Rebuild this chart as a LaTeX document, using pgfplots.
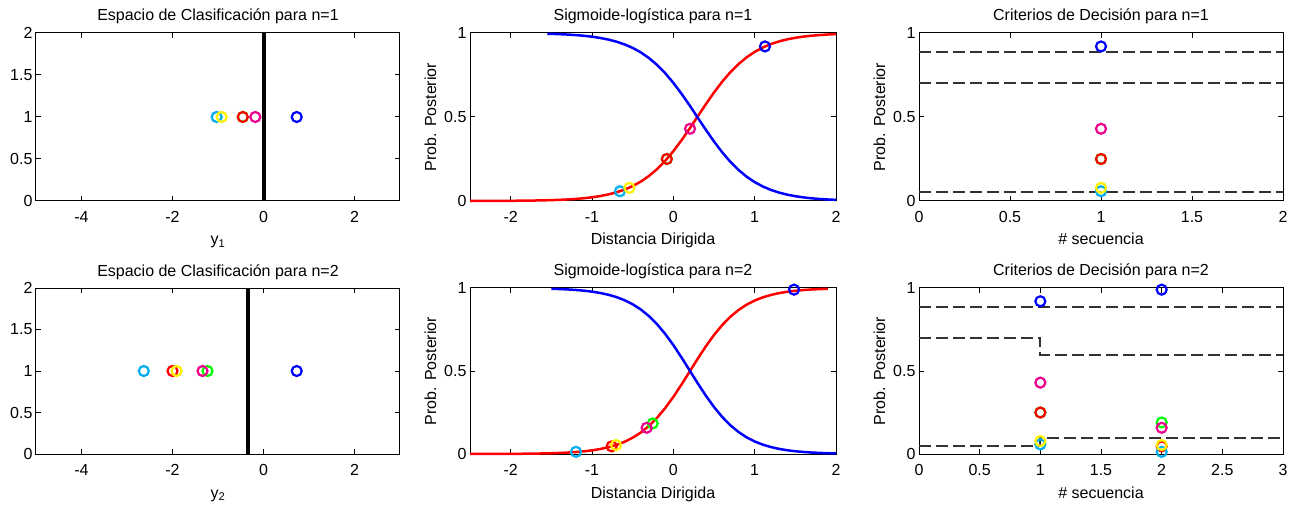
\documentclass[border=0pt]{standalone}
\usepackage{fontspec}
\setmainfont{Liberation Sans}
\usepackage{pgfplots}
\pgfplotsset{compat=1.18}
\newcommand{\ff}{\fontsize{16}{19}\selectfont}
\pgfplotsset{
  myax/.style={scale only axis, anchor=south west, height=168pt,
    tick align=inside, major tick length=5pt,
    axis line style={line width=1pt, black},
    every tick/.style={black, line width=1pt},
    tick label style={font=\ff},
    /pgf/number format/assume math mode=true,
    xticklabel style={yshift=-6.5pt},
    clip=false,
    every axis title/.style={at={(0.5,1)}, anchor=base, yshift=12pt, font=\ff},
    every axis x label/.style={at={(0.5,0)}, anchor=base, yshift=-44pt, font=\ff},
    every axis y label/.style={at={(0,0.5)}, xshift=-34pt, rotate=90, anchor=base, font=\ff},
  },
  mk/.style={only marks, mark=o, mark size=5pt, line width=2.2pt, color=#1},
  dsh/.style={black!80, line width=1.8pt, dash pattern=on 12pt off 5pt},
}
\begin{document}
\begin{tikzpicture}
\path[use as bounding box] (0pt,0pt) rectangle (1292pt,506pt);

% ---------- Panel 1
\begin{axis}[myax, at={(36pt,305pt)}, width=364pt,
  xmin=-5, xmax=3, ymin=0, ymax=2,
  xtick={-4,-2,0,2}, ytick={0,0.5,1,1.5,2},
  title={Espacio de Clasificación para n=1}, xlabel={y\textsubscript{1}}]
\addplot[black, line width=4pt] coordinates {(0.02,0) (0.02,2)};
\addplot[mk=blue] coordinates {(0.73,1)};
\addplot[mk=green] coordinates {(-0.455,1)};
\addplot[mk=red] coordinates {(-0.455,1)};
\addplot[mk=cyan] coordinates {(-1.03,1)};
\addplot[mk=magenta] coordinates {(-0.18,1)};
\addplot[mk=yellow] coordinates {(-0.92,1)};
\end{axis}

% ---------- Panel 2
\begin{axis}[myax, at={(470pt,305pt)}, width=366pt,
  xmin=-2.5, xmax=2, ymin=0, ymax=1,
  xtick={-2,-1,0,1,2}, ytick={0,0.5,1},
  title={Sigmoide-logística para n=1}, xlabel={Distancia Dirigida}, ylabel={Prob. Posterior}]
\addplot[red, line width=2.5pt] coordinates {(-2.5,0.0003) (-2.4,0.0004) (-2.3,0.0005) (-2.2,0.0007) (-2.1,0.0009) (-2.0,0.0012) (-1.9,0.0016) (-1.8,0.0022) (-1.7,0.0029) (-1.6,0.0039) (-1.5,0.0052) (-1.4,0.0069) (-1.3,0.0093) (-1.2,0.0124) (-1.1,0.0165) (-1.0,0.0220) (-0.9,0.0293) (-0.8,0.0389) (-0.7,0.0514) (-0.6,0.0678) (-0.5,0.0888) (-0.4,0.1155) (-0.3,0.1490) (-0.2,0.1900) (-0.1,0.2392) (0,0.2965) (0.1,0.3610) (0.2,0.4309) (0.3,0.5037) (0.4,0.5763) (0.5,0.6459) (0.6,0.7097) (0.7,0.7662) (0.8,0.8145) (0.9,0.8548) (1.0,0.8875) (1.1,0.9137) (1.2,0.9341) (1.3,0.9500) (1.4,0.9622) (1.5,0.9715) (1.6,0.9786) (1.7,0.9840) (1.8,0.9880) (1.9,0.9910) (2.0,0.9933)};
\addplot[blue, line width=2.5pt] coordinates {(-1.55,0.9955) (-1.5,0.9948) (-1.4,0.9931) (-1.3,0.9907) (-1.2,0.9876) (-1.1,0.9835) (-1.0,0.9780) (-0.9,0.9707) (-0.8,0.9611) (-0.7,0.9486) (-0.6,0.9322) (-0.5,0.9112) (-0.4,0.8845) (-0.3,0.8510) (-0.2,0.8100) (-0.1,0.7608) (0,0.7035) (0.1,0.6390) (0.2,0.5691) (0.3,0.4963) (0.4,0.4237) (0.5,0.3541) (0.6,0.2903) (0.7,0.2338) (0.8,0.1855) (0.9,0.1452) (1.0,0.1125) (1.1,0.0863) (1.2,0.0659) (1.3,0.0500) (1.4,0.0378) (1.5,0.0285) (1.6,0.0214) (1.7,0.0160) (1.8,0.0120) (1.9,0.0090) (2.0,0.0067)};
\addplot[mk=blue] coordinates {(1.127,0.92)};
\addplot[mk=green] coordinates {(-0.08,0.25)};
\addplot[mk=red] coordinates {(-0.08,0.25)};
\addplot[mk=cyan] coordinates {(-0.656,0.058)};
\addplot[mk=magenta] coordinates {(0.205,0.43)};
\addplot[mk=yellow] coordinates {(-0.54,0.078)};
\end{axis}

% ---------- Panel 3
\begin{axis}[myax, at={(919pt,305pt)}, width=364pt,
  xmin=0, xmax=2, ymin=0, ymax=1,
  xtick={0,0.5,1,1.5,2}, ytick={0,0.5,1},
  title={Criterios de Decisión para n=1}, xlabel={\# secuencia}, ylabel={Prob. Posterior}]
\addplot[dsh] coordinates {(0,0.885) (2,0.885)};
\addplot[dsh] coordinates {(0,0.70) (2,0.70)};
\addplot[dsh] coordinates {(0,0.052) (2,0.052)};
\addplot[mk=blue] coordinates {(1,0.92)};
\addplot[mk=green] coordinates {(1,0.25)};
\addplot[mk=red] coordinates {(1,0.25)};
\addplot[mk=cyan] coordinates {(1,0.058)};
\addplot[mk=magenta] coordinates {(1,0.43)};
\addplot[mk=yellow] coordinates {(1,0.078)};
\end{axis}

% ---------- Panel 4
\begin{axis}[myax, at={(36pt,52pt)}, width=364pt, height=166pt,
  xmin=-5, xmax=3, ymin=0, ymax=2,
  xtick={-4,-2,0,2}, ytick={0,0.5,1,1.5,2},
  title={Espacio de Clasificación para n=2}, xlabel={y\textsubscript{2}}]
\addplot[black, line width=4pt] coordinates {(-0.33,0) (-0.33,2)};
\addplot[mk=blue] coordinates {(0.73,1)};
\addplot[mk=green] coordinates {(-1.23,1)};
\addplot[mk=red] coordinates {(-2.0,1)};
\addplot[mk=cyan] coordinates {(-2.63,1)};
\addplot[mk=magenta] coordinates {(-1.34,1)};
\addplot[mk=yellow] coordinates {(-1.91,1)};
\end{axis}

% ---------- Panel 5
\begin{axis}[myax, at={(470pt,52pt)}, width=366pt, height=166pt,
  xmin=-2.5, xmax=2, ymin=0, ymax=1,
  xtick={-2,-1,0,1,2}, ytick={0,0.5,1},
  title={Sigmoide-logística para n=2}, xlabel={Distancia Dirigida}, ylabel={Prob. Posterior}]
\addplot[red, line width=2.5pt] coordinates {(-2.5,0.0002) (-2.4,0.0003) (-2.3,0.0004) (-2.2,0.0005) (-2.1,0.0007) (-2.0,0.0010) (-1.9,0.0013) (-1.8,0.0018) (-1.7,0.0025) (-1.6,0.0034) (-1.5,0.0046) (-1.4,0.0063) (-1.3,0.0087) (-1.2,0.0118) (-1.1,0.0161) (-1.0,0.0220) (-0.9,0.0299) (-0.8,0.0405) (-0.7,0.0546) (-0.6,0.0734) (-0.5,0.0979) (-0.4,0.1294) (-0.3,0.1692) (-0.2,0.2182) (-0.1,0.2767) (0,0.3439) (0.1,0.4180) (0.2,0.4961) (0.3,0.5742) (0.4,0.6489) (0.5,0.7169) (0.6,0.7763) (0.7,0.8262) (0.8,0.8669) (0.9,0.8993) (1.0,0.9244) (1.1,0.9437) (1.2,0.9582) (1.3,0.9692) (1.4,0.9773) (1.5,0.9834) (1.6,0.9878) (1.7,0.9911) (1.8,0.9935) (1.9,0.9952)};
\addplot[blue, line width=2.5pt] coordinates {(-1.5,0.9954) (-1.4,0.9937) (-1.3,0.9914) (-1.2,0.9882) (-1.1,0.9839) (-1.0,0.9780) (-0.9,0.9701) (-0.8,0.9595) (-0.7,0.9454) (-0.6,0.9266) (-0.5,0.9021) (-0.4,0.8706) (-0.3,0.8308) (-0.2,0.7818) (-0.1,0.7233) (0,0.6561) (0.1,0.5820) (0.2,0.5039) (0.3,0.4258) (0.4,0.3511) (0.5,0.2831) (0.6,0.2237) (0.7,0.1738) (0.8,0.1331) (0.9,0.1007) (1.0,0.0756) (1.1,0.0563) (1.2,0.0418) (1.3,0.0308) (1.4,0.0227) (1.5,0.0166) (1.6,0.0122) (1.7,0.0089) (1.8,0.0065) (1.9,0.0048) (2.0,0.0035)};
\addplot[mk=blue] coordinates {(1.484,0.99)};
\addplot[mk=green] coordinates {(-0.254,0.184)};
\addplot[mk=red] coordinates {(-0.758,0.046)};
\addplot[mk=cyan] coordinates {(-1.197,0.013)};
\addplot[mk=magenta] coordinates {(-0.328,0.158)};
\addplot[mk=yellow] coordinates {(-0.705,0.054)};
\end{axis}

% ---------- Panel 6
\begin{axis}[myax, at={(919pt,52pt)}, width=364pt, height=166pt,
  xmin=0, xmax=3, ymin=0, ymax=1,
  xtick={0,0.5,1,1.5,2,2.5,3}, ytick={0,0.5,1},
  title={Criterios de Decisión para n=2}, xlabel={\# secuencia}, ylabel={Prob. Posterior}]
\addplot[dsh] coordinates {(0,0.885) (3,0.885)};
\addplot[dsh] coordinates {(0,0.70) (1,0.70) (1,0.5976) (3,0.5976)};
\addplot[dsh] coordinates {(0,0.05) (1,0.05) (1,0.0976) (3,0.0976)};
\addplot[mk=blue] coordinates {(1,0.92) (2,0.99)};
\addplot[mk=green] coordinates {(1,0.25) (2,0.19)};
\addplot[mk=red] coordinates {(1,0.25) (2,0.046)};
\addplot[mk=cyan] coordinates {(1,0.058) (2,0.013)};
\addplot[mk=magenta] coordinates {(1,0.43) (2,0.158)};
\addplot[mk=yellow] coordinates {(1,0.078) (2,0.054)};
\end{axis}
\end{tikzpicture}
\end{document}
